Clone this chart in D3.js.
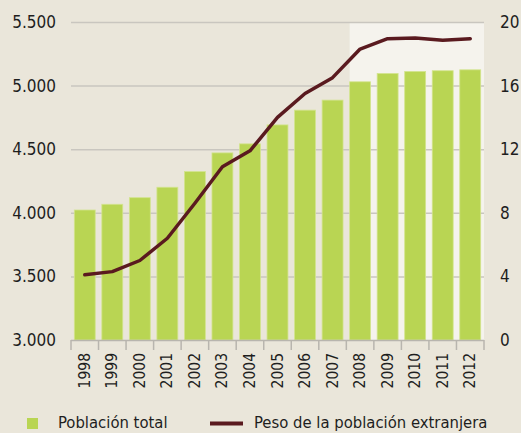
<!DOCTYPE html>
<html>
<head>
<meta charset="utf-8">
<script src="https://cdn.jsdelivr.net/npm/d3@7"></script>
<style>
  body { margin: 0; background: #eae6da; }
  svg text { font-family: "DejaVu Sans Condensed", "DejaVu Sans", sans-serif; font-stretch: condensed; fill: #1e1e1e; }
</style>
</head>
<body>
<div id="chart"></div>
<script>
// data
const years = ["1998","1999","2000","2001","2002","2003","2004","2005","2006","2007","2008","2009","2010","2011","2012"];
const poblacion = [4022, 4067, 4119, 4201, 4324, 4471, 4542, 4691, 4807, 4886, 5030, 5095, 5111, 5117, 5124];
const pesoExtranjera = [4.1, 4.3, 5.0, 6.4, 8.6, 10.9, 11.9, 14.0, 15.5, 16.5, 18.3, 18.95, 19.0, 18.85, 18.95];
const leftTicks = [3000, 3500, 4000, 4500, 5000, 5500];
const rightTicks = [0, 4, 8, 12, 16, 20];
const highlightFrom = "2008";

const W = 521, H = 433;
const margin = { top: 22, right: 37, bottom: 93, left: 71 };

const svg = d3.select("#chart").append("svg")
    .attr("width", W)
    .attr("height", H);

svg.append("rect").attr("width", W).attr("height", H).attr("fill", "#eae6da");

const x = d3.scaleBand()
    .domain(years)
    .range([margin.left, W - margin.right])
    .paddingInner(0.24)
    .paddingOuter(0.12);

const yL = d3.scaleLinear().domain([3000, 5500]).range([H - margin.bottom, margin.top]);
const yR = d3.scaleLinear().domain([0, 20]).range([H - margin.bottom, margin.top]);

// lighter area for the last years
svg.append("rect")
    .attr("x", x(highlightFrom))
    .attr("y", margin.top)
    .attr("width", (W - margin.right) - x(highlightFrom))
    .attr("height", yL(3000) - margin.top)
    .attr("fill", "#f5f3ed");

// gridlines
svg.append("g")
    .selectAll("line")
    .data(leftTicks.slice(1))
    .enter()
    .append("line")
    .attr("x1", margin.left)
    .attr("x2", W - margin.right)
    .attr("y1", d => yL(d) + 0.5)
    .attr("y2", d => yL(d) + 0.5)
    .attr("stroke", "#c9c6bf")
    .attr("stroke-width", 1.5);

// bars
svg.append("g")
    .selectAll("rect")
    .data(years)
    .enter()
    .append("rect")
    .attr("x", d => x(d))
    .attr("y", (d, i) => yL(poblacion[i]))
    .attr("width", x.bandwidth())
    .attr("height", (d, i) => yL(3000) - yL(poblacion[i]))
    .attr("fill", "#b9d553")
    .attr("stroke", "#d3e48e")
    .attr("stroke-width", 0.8);

// x axis
const xAxis = svg.append("g")
    .attr("transform", `translate(0,${yL(3000)})`);

xAxis.append("line")
    .attr("x1", margin.left).attr("x2", W - margin.right)
    .attr("y1", 0.5).attr("y2", 0.5)
    .attr("stroke", "#b8b5ae").attr("stroke-width", 1.5);

const step = x.step();
const tickPos = years.map(d => x(d) - step * x.paddingInner() / 2).concat([W - margin.right]);
xAxis.selectAll(".tk")
    .data(tickPos)
    .enter()
    .append("line")
    .attr("x1", d => d).attr("x2", d => d)
    .attr("y1", 0).attr("y2", 10)
    .attr("stroke", "#b8b5ae").attr("stroke-width", 1.5);

xAxis.selectAll(".yr")
    .data(years)
    .enter()
    .append("text")
    .attr("transform", d => `translate(${x(d) + x.bandwidth() / 2 + 5},13) rotate(-90)`)
    .attr("text-anchor", "end")
    .style("font-size", "15.5px")
    .text(d => d);

// left labels
svg.append("g")
    .selectAll("text")
    .data(leftTicks)
    .enter()
    .append("text")
    .attr("x", 56)
    .attr("y", d => yL(d) + 6)
    .attr("text-anchor", "end")
    .style("font-size", "17px")
    .text(d => d3.format(",")(d).replace(",", "."));

// right labels
svg.append("g")
    .selectAll("text")
    .data(rightTicks)
    .enter()
    .append("text")
    .attr("x", 500)
    .attr("y", d => yR(d) + 6)
    .attr("text-anchor", "start")
    .style("font-size", "17px")
    .text(d => d);

// line
const line = d3.line()
    .x((d, i) => x(years[i]) + x.bandwidth() / 2)
    .y(d => yR(d));

svg.append("path")
    .datum(pesoExtranjera)
    .attr("d", line)
    .attr("fill", "none")
    .attr("stroke", "#5a1a1f")
    .attr("stroke-width", 3.5)
    .attr("stroke-linejoin", "round")
    .attr("stroke-linecap", "round");

// legend
const lg = svg.append("g");
lg.append("rect")
    .attr("x", 27).attr("y", 418)
    .attr("width", 11).attr("height", 11)
    .attr("fill", "#b9d553");
lg.append("text")
    .attr("x", 58).attr("y", 428)
    .style("font-size", "16.5px")
    .text("Población total");
lg.append("line")
    .attr("x1", 210).attr("x2", 243)
    .attr("y1", 423.5).attr("y2", 423.5)
    .attr("stroke", "#5a1a1f").attr("stroke-width", 4);
lg.append("text")
    .attr("x", 254).attr("y", 428)
    .style("font-size", "16.5px")
    .text("Peso de la población extranjera");
</script>
</body>
</html>
